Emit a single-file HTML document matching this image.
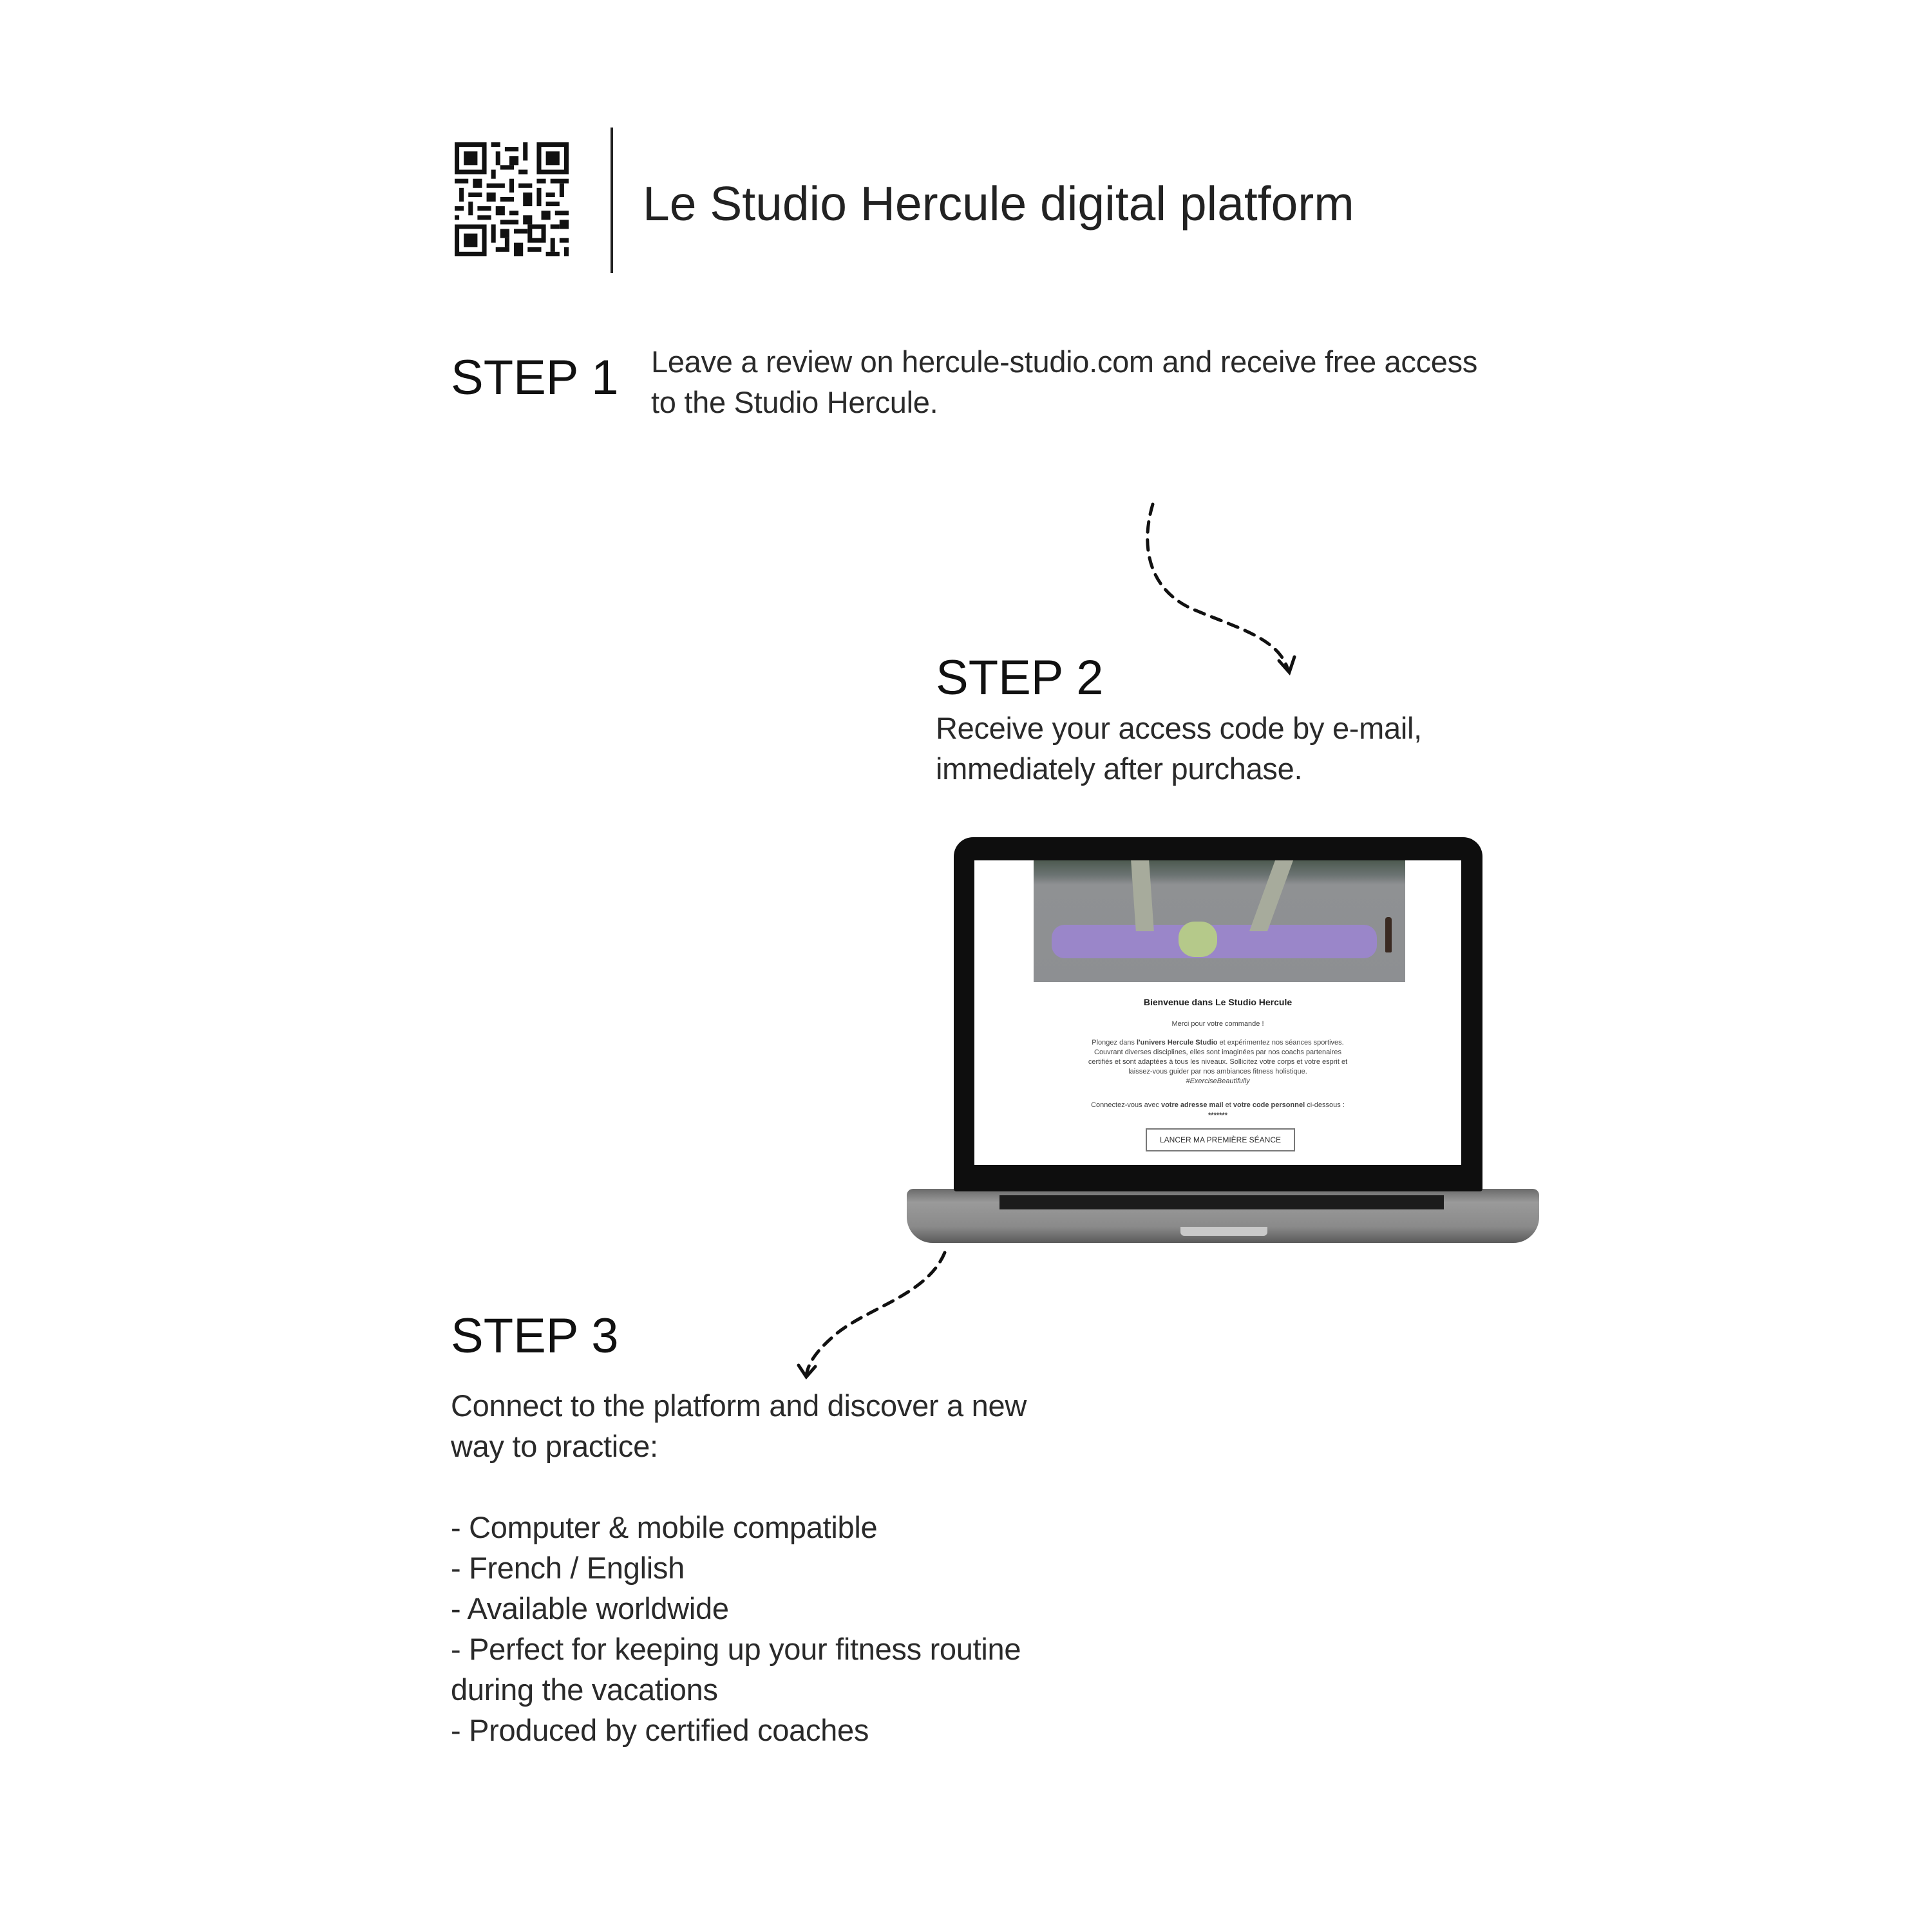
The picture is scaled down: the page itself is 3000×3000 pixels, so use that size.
<!DOCTYPE html>
<html><head><meta charset="utf-8"><style>
html,body{margin:0;padding:0;background:#fff;}
body{width:3000px;height:3000px;position:relative;overflow:hidden;font-family:"Liberation Sans",sans-serif;color:#222;}
.a{position:absolute;white-space:nowrap;}
.step{font-size:76px;letter-spacing:0px;color:#111;line-height:1;}
.body{font-size:47px;line-height:63px;color:#2a2a2a;letter-spacing:-0.3px;}
</style></head><body>

<!-- QR -->
<svg class="a" style="left:706px;top:221px" width="177" height="177" viewBox="0 0 25 25">
<rect width="25" height="25" fill="#fff"/>
<g fill="#111">
<path d="M0 0h7v7h-7zM1 1v5h5v-5zM2 2h3v3h-3z" fill-rule="evenodd"/>
<path d="M18 0h7v7h-7zM19 1v5h5v-5zM20 2h3v3h-3z" fill-rule="evenodd"/>
<path d="M0 18h7v7h-7zM1 19v5h5v-5zM2 20h3v3h-3z" fill-rule="evenodd"/>
<rect x="8" y="0" width="2" height="1"/><rect x="11" y="1" width="3" height="1"/><rect x="9" y="2" width="1" height="3"/><rect x="12" y="3" width="2" height="2"/><rect x="15" y="0" width="1" height="4"/><rect x="10" y="5" width="3" height="1"/><rect x="8" y="6" width="1" height="2"/><rect x="14" y="6" width="2" height="1"/>
<rect x="0" y="8" width="3" height="1"/><rect x="4" y="8" width="2" height="2"/><rect x="7" y="9" width="4" height="1"/><rect x="12" y="8" width="1" height="3"/><rect x="14" y="9" width="3" height="1"/><rect x="18" y="8" width="2" height="1"/><rect x="21" y="8" width="4" height="1"/><rect x="23" y="9" width="1" height="3"/>
<rect x="1" y="10" width="1" height="3"/><rect x="3" y="11" width="3" height="1"/><rect x="7" y="11" width="2" height="2"/><rect x="10" y="12" width="3" height="1"/><rect x="15" y="11" width="2" height="3"/><rect x="18" y="10" width="1" height="4"/><rect x="20" y="11" width="2" height="1"/>
<rect x="0" y="14" width="2" height="1"/><rect x="3" y="13" width="1" height="3"/><rect x="5" y="14" width="3" height="1"/><rect x="9" y="14" width="2" height="2"/><rect x="12" y="15" width="2" height="1"/><rect x="20" y="13" width="3" height="1"/><rect x="22" y="15" width="3" height="1"/><rect x="19" y="15" width="2" height="2"/>
<rect x="0" y="16" width="1" height="1"/><rect x="5" y="16" width="3" height="1"/><rect x="10" y="17" width="4" height="1"/><rect x="15" y="16" width="2" height="2"/><rect x="8" y="18" width="1" height="4"/><rect x="10" y="19" width="2" height="2"/><rect x="13" y="19" width="3" height="1"/><rect x="16" y="18" width="4" height="4"/><rect x="17" y="19" width="2" height="2" fill="#fff"/>
<rect x="21" y="18" width="2" height="1"/><rect x="23" y="17" width="2" height="2"/><rect x="21" y="21" width="1" height="3"/><rect x="23" y="21" width="2" height="1"/><rect x="9" y="23" width="3" height="1"/><rect x="13" y="22" width="2" height="3"/><rect x="16" y="23" width="3" height="1"/><rect x="20" y="24" width="3" height="1"/><rect x="24" y="23" width="1" height="2"/><rect x="11" y="21" width="1" height="2"/>
</g></svg>
<div class="a" style="left:948px;top:198px;width:4px;height:226px;background:#222"></div>
<div class="a" style="left:998px;top:273px;font-size:75px;color:#222;">Le Studio Hercule digital platform</div>

<div class="a step" style="left:700px;top:549px;">STEP 1</div>
<div class="a body" style="left:1011px;top:530px;">Leave a review on hercule-studio.com and receive free access<br>to the Studio Hercule.</div>

<div class="a step" style="left:1453px;top:1015px;">STEP 2</div>
<div class="a body" style="left:1453px;top:1099px;">Receive your access code by e-mail,<br>immediately after purchase.</div>

<div class="a step" style="left:700px;top:2037px;">STEP 3</div>
<div class="a body" style="left:700px;top:2151px;">Connect to the platform and discover a new<br>way to practice:<br><br>- Computer &amp; mobile compatible<br>- French / English<br>- Available worldwide<br>- Perfect for keeping up your fitness routine<br>during the vacations<br>- Produced by certified coaches</div>

<!-- arrows -->
<svg class="a" style="left:0;top:0" width="3000" height="3000" viewBox="0 0 3000 3000">
<g fill="none" stroke="#111" stroke-width="5" stroke-linecap="round">
<path d="M1790 783 C1770 850,1785 915,1850 945 C1920 975,1985 990,2000 1040" stroke-dasharray="16 12"/>
<path d="M1986 1026 L2002 1044 L2010 1020"/>
<path d="M1467 1945 C1440 2010,1350 2030,1300 2070 C1270 2095,1255 2115,1252 2136" stroke-dasharray="16 12"/>
<path d="M1240 2120 L1252 2138 L1266 2122"/>
</g></svg>

<!-- laptop -->
<div class="a" style="left:1408px;top:1846px;width:982px;height:84px;border-radius:10px 10px 40px 40px;background:linear-gradient(#6a6a6a,#9a9a9a 25%,#8a8a8a 70%,#5a5a5a);"></div>
<div class="a" style="left:1552px;top:1856px;width:690px;height:22px;background:#1c1c1c;"></div>
<div class="a" style="left:1833px;top:1905px;width:135px;height:14px;background:#c9c9c9;border-radius:0 0 6px 6px;"></div>
<div class="a" style="left:1481px;top:1300px;width:821px;height:550px;background:#0e0e0e;border-radius:30px 30px 4px 4px;"></div>
<div class="a" style="left:1513px;top:1336px;width:756px;height:473px;background:#fff;"></div>
<div class="a" style="left:1605px;top:1336px;width:577px;height:189px;background:linear-gradient(#4d5a50 0,#6b7372 12%,#8f9193 20%,#8d8f92 100%);overflow:hidden;">
  <div style="position:absolute;left:28px;top:100px;width:505px;height:52px;background:#9a86c9;border-radius:20px;"></div>
  <div style="position:absolute;left:225px;top:95px;width:60px;height:55px;background:#b5c98a;border-radius:25px;"></div>
  <div style="position:absolute;left:155px;top:0;width:28px;height:110px;background:#a7ab9c;transform:skewX(4deg);"></div>
  <div style="position:absolute;left:355px;top:0;width:28px;height:110px;background:#a7ab9c;transform:skewX(-20deg);"></div>
  <div style="position:absolute;left:546px;top:88px;width:10px;height:55px;background:#3a2a22;border-radius:4px 4px 2px 2px;"></div>
</div>
<div class="a" style="left:1513px;top:1548px;width:756px;text-align:center;font-size:14px;font-weight:bold;color:#222;">Bienvenue dans Le Studio Hercule</div>
<div class="a" style="left:1513px;top:1584px;width:756px;text-align:center;font-size:11px;color:#444;">Merci pour votre commande !</div>
<div class="a" style="left:1513px;top:1612px;width:756px;text-align:center;font-size:11px;line-height:15px;color:#444;">Plongez dans <b>l'univers Hercule Studio</b> et expérimentez nos séances sportives.<br>Couvrant diverses disciplines, elles sont imaginées par nos coachs partenaires<br>certifiés et sont adaptées à tous les niveaux. Sollicitez votre corps et votre esprit et<br>laissez-vous guider par nos ambiances fitness holistique.<br><i>#ExerciseBeautifully</i></div>
<div class="a" style="left:1513px;top:1708px;width:756px;text-align:center;font-size:11px;line-height:16px;color:#444;">Connectez-vous avec <b>votre adresse mail</b> et <b>votre code personnel</b> ci-dessous :<br><b>*******</b></div>
<div class="a" style="left:1779px;top:1752px;width:232px;height:36px;border:2px solid #777;box-sizing:border-box;text-align:center;line-height:32px;font-size:12px;color:#333;">LANCER MA PREMIÈRE SÉANCE</div>

</body></html>
